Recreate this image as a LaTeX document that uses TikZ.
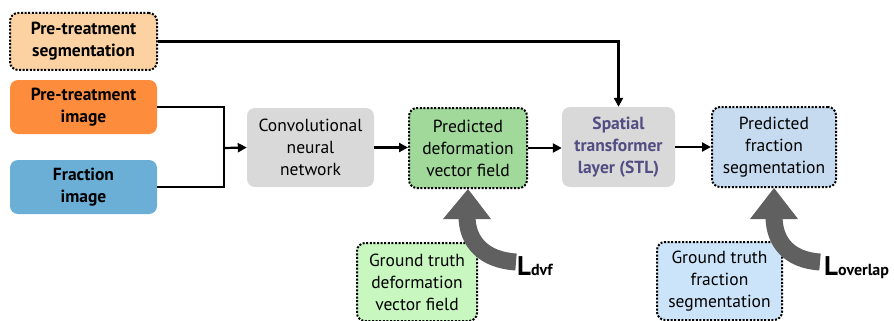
\documentclass[tikz,border=0pt]{standalone}
\usepackage{fontspec}
\setmainfont{PT Sans}
\usetikzlibrary{arrows.meta}
\definecolor{peach}{RGB}{252,210,163}
\definecolor{orangeb}{RGB}{253,141,60}
\definecolor{blueb}{RGB}{107,174,214}
\definecolor{grayb}{RGB}{217,217,217}
\definecolor{greenb}{RGB}{161,217,155}
\definecolor{lblue}{RGB}{198,219,239}
\definecolor{gtgreen}{RGB}{200,247,192}
\definecolor{gtblue}{RGB}{204,228,250}
\definecolor{purp}{RGB}{82,77,130}
\definecolor{darkarrow}{RGB}{96,96,96}
\newcommand{\fs}{\fontsize{17.5}{22}\selectfont}
\tikzset{
  box/.style={rounded corners=8pt, align=center, inner sep=0pt, font=\fs},
  bbox/.style={box, font=\fs\bfseries},
  dotb/.style={draw=black, line width=2pt, dash pattern=on 2pt off 1.6pt},
  conn/.style={line width=2.2pt, -{Triangle[length=9pt,width=9pt]}},
  plain/.style={line width=2.2pt},
  loss/.style={anchor=base west, inner sep=0pt, font=\fontsize{27}{27}\selectfont\bfseries},
}
\newcommand{\lsub}[1]{{\fontsize{16}{16}\selectfont #1}}
\begin{document}
\begin{tikzpicture}[x=1pt,y=-1pt]
\useasboundingbox (0,0) rectangle (894,321);
% boxes
\node[bbox, dotb, fill=peach, minimum width=147pt, minimum height=57pt] (seg) at (83.5,41.5) {Pre-treatment\\segmentation};
\node[bbox, fill=orangeb, minimum width=147pt, minimum height=54pt] (pimg) at (83.5,107) {Pre-treatment\\image};
\node[bbox, fill=blueb, minimum width=147pt, minimum height=54pt] (fimg) at (83.5,187) {Fraction\\image};
\node[box, fill=grayb, minimum width=127pt, minimum height=79pt] (cnn) at (310.5,147.5) {Convolutional\\neural\\network};
\node[box, dotb, fill=greenb, minimum width=118pt, minimum height=80pt] (dvf) at (468,148) {Predicted\\deformation\\vector field};
\node[bbox, fill=grayb, minimum width=113pt, minimum height=80pt, text=purp] (stl) at (618.5,147) {Spatial\\transformer\\layer (STL)};
\node[box, dotb, fill=lblue, minimum width=124pt, minimum height=80pt] (pfs) at (774,147) {Predicted\\fraction\\segmentation};
\node[box, dotb, fill=gtgreen, minimum width=120pt, minimum height=78pt] (gtdvf) at (417,282) {Ground truth\\deformation\\vector field};
\node[box, dotb, fill=gtblue, minimum width=125pt, minimum height=78pt] (gtfs) at (719.5,281) {Ground truth\\fraction\\segmentation};
% connectors
\coordinate (j) at (224,148);
\draw[plain] (pimg.east) -| (j);
\draw[plain] (fimg.east) -| (j);
\draw[conn] (j) -- (cnn.west);
\draw[conn] (cnn.east) -- (cnn.east -| dvf.west);
\draw[conn] (dvf.east) -- (dvf.east -| stl.west);
\draw[conn] (stl.east) -- (stl.east -| pfs.west);
\draw[conn] (seg.east) -| (stl.north);
% loss arrows
\coordinate (l1) at (516,262);
\draw[darkarrow, line width=17pt] (l1) .. controls (484,260) and (467,242) .. (467,216);
\fill[darkarrow] (443,219) -- (491,219) -- (dvf.south) -- cycle;
\node[loss] (ldvf) at (517,275) {L\lsub{dvf}};
\coordinate (l2) at (820,262);
\draw[darkarrow, line width=17pt] (l2) .. controls (789,260) and (774,242) .. (774,216);
\fill[darkarrow] (750,219) -- (798,219) -- (pfs.south) -- cycle;
\node[loss] (lov) at (824,275) {L\lsub{overlap}};
\end{tikzpicture}
\end{document}
